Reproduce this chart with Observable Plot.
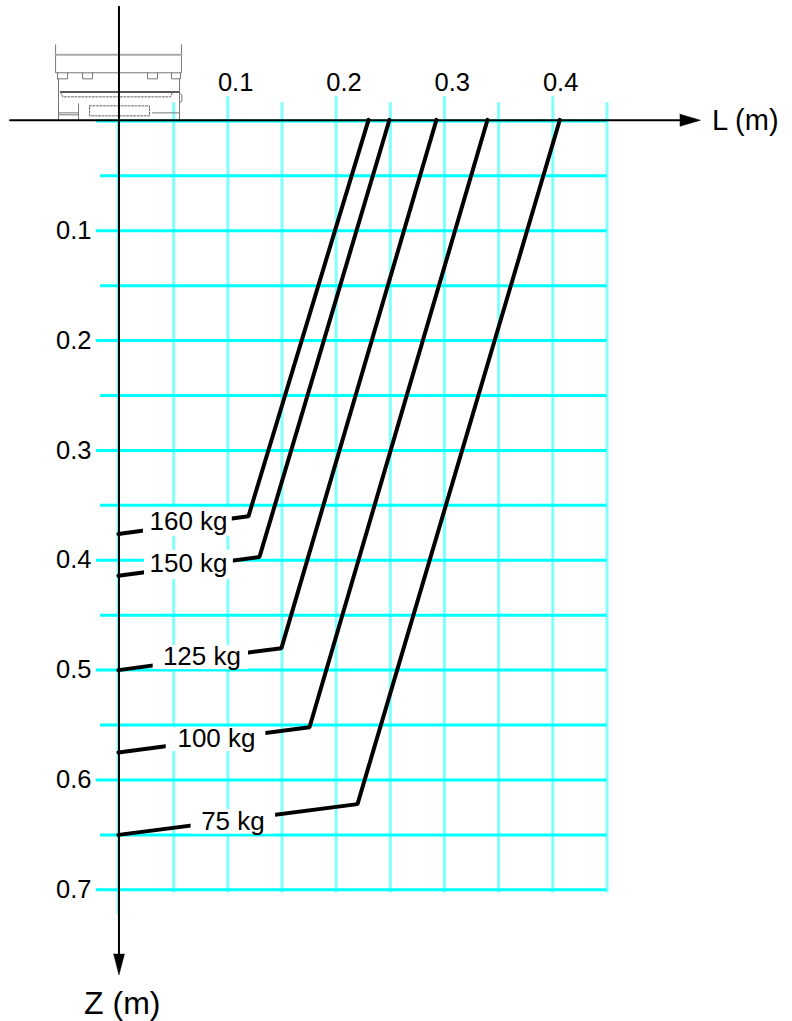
<!DOCTYPE html>
<html><head><meta charset="utf-8">
<script src="https://cdn.jsdelivr.net/npm/d3@7"></script>
<script src="https://cdn.jsdelivr.net/npm/@observablehq/plot@0.6"></script>
<style>html,body{margin:0;padding:0;background:#fff}svg{display:block}</style>
</head><body><div id="chart"></div>
<script>
const gridL = [0.05,0.1,0.15,0.2,0.25,0.3,0.35,0.4,0.45];
const gridZ = [0,0.05,0.1,0.15,0.2,0.25,0.3,0.35,0.4,0.45,0.5,0.55,0.6,0.65,0.7];
const tickL = [0.1,0.2,0.3,0.4];
const tickZ = [0.1,0.2,0.3,0.4,0.5,0.6,0.7];
const loads = ["160 kg","150 kg","125 kg","100 kg","75 kg"];
const topL  = [0.2299,0.2492,0.2926,0.3397,0.4065];
const kneeL = [0.119,0.1292,0.1495,0.1754,0.2197];
const kneeZ = [0.36,0.397,0.48,0.552,0.622];
const endZ  = [0.376,0.414,0.5,0.575,0.65];
const labelL = [0.0637,0.0637,0.0761,0.0895,0.1047];
const labelZ = [0.3646,0.403,0.4877,0.5625,0.6376];
const boxL1 = [0.0221,0.0231,0.0311,0.0431,0.0661];
const boxL2 = [0.1041,0.1051,0.1191,0.1351,0.1441];
const boxZ1 = [0.3525,0.391,0.4777,0.5525,0.627];
const boxZ2 = [0.378,0.4175,0.4995,0.574,0.649];

const lines = loads.flatMap((k,i)=>[
  {k,L:topL[i],Z:-0.001},{k,L:kneeL[i],Z:kneeZ[i]},{k,L:-0.001,Z:endZ[i]}]);
const labels = loads.map((k,i)=>({k,L:labelL[i],Z:labelZ[i]}));
const boxes = loads.map((k,i)=>({x1:boxL1[i],x2:boxL2[i],y1:boxZ1[i],y2:boxZ2[i]}));

// axes, arrowheads and the sketched device, in metres
const axisL = [[-0.101,-0.0006],[0.5294,-0.0006]];
const axisZ = [[-0.0005,-0.104],[-0.0005,0.77]];
const headL = [[0.5174,-0.0061],[0.5363,-0.0006],[0.5174,0.0049],[0.5174,-0.0061]];
const headZ = [[-0.0054,0.7585],[-0.0005,0.7775],[0.0046,0.7585],[-0.0054,0.7585]];
const device = [
 [[-0.059,-0.0693],[-0.059,-0.0438],[0.0572,-0.0438],[0.0572,-0.0693]],
 [[-0.0572,-0.0383],[-0.0572,-0.0438]],
 [[-0.0572,-0.0383],[-0.0479,-0.0383],[-0.0479,-0.0438]],
 [[-0.0341,-0.0438],[-0.0341,-0.0383],[-0.0249,-0.0383],[-0.0249,-0.0438]],
 [[0.0259,-0.0438],[0.0259,-0.0383],[0.0351,-0.0383],[0.0351,-0.0438]],
 [[0.048,-0.0438],[0.048,-0.0383],[0.0563,-0.0383],[0.0563,-0.0438]],
 [[-0.0563,-0.0383],[-0.0563,-0.0264]],
 [[0.0554,-0.0383],[0.0554,-0.0264]],
 [[-0.0563,-0.0264],[-0.0563,-0.0012]],
 [[0.0554,-0.0264],[0.0554,-0.0012]],
 [[-0.0563,-0.0055],[-0.0378,-0.0055]],
 [[-0.0563,-0.0073],[-0.0378,-0.0073]],
 [[-0.0378,-0.0155],[-0.0378,-0.0012]],
 [[0.0305,-0.0073],[0.0554,-0.0073]],
 [[0.0554,-0.0255],[0.0576,-0.0235],[0.0576,-0.018],[0.0554,-0.0164]]
];
const deviceBand = [[-0.059,-0.0602],[0.0572,-0.0602]];
const deviceEdge = [[-0.0544,-0.0264],[0.0545,-0.0264]];
const deviceDashed = [
 [[-0.0544,-0.0264],[-0.0524,-0.0219],[0.0471,-0.0219],[0.0491,-0.0264]],
 [[-0.0277,-0.0137],[0.0277,-0.0137],[0.0277,-0.0046],[-0.0277,-0.0046],[-0.0277,-0.0137]]
];
const pt = {x:d=>d[0],y:d=>d[1]};

const font = "Liberation Sans, Arial, sans-serif";
const plot = Plot.plot({
  width:792,height:1021,margin:0,
  style:{fontFamily:font,background:"#fff"},
  x:{domain:[0,0.45],range:[119,606.5],axis:null},
  y:{domain:[0,0.7],range:[120.4,889.3],axis:null},
  marks:[
    Plot.ruleX(gridL,{x:d=>d,y1:d=>tickL.includes(d)?-0.022:-0.0165,y2:0.703,stroke:"#80ffff",strokeWidth:3}),
    Plot.ruleX([0],{x:-0.0017,y1:0,y2:0.723,stroke:"#80ffff",strokeWidth:2}),
    Plot.ruleY(gridZ,{y:d=>d,x1:d=>tickZ.includes(d)||d===0?-0.0214:-0.0175,x2:0.45,stroke:"#00ffff",strokeWidth:3}),
    Plot.rect(boxes,{x1:"x1",x2:"x2",y1:"y1",y2:"y2",fill:"#fff"}),
    ...device.map(p=>Plot.line(p,{...pt,stroke:"#777",strokeWidth:1})),
    Plot.line(deviceBand,{...pt,stroke:"#aaa",strokeWidth:2}),
    Plot.line(deviceEdge,{...pt,stroke:"#222",strokeWidth:1.5}),
    ...deviceDashed.map(p=>Plot.line(p,{...pt,stroke:"#666",strokeWidth:1,strokeDasharray:"2,1.5"})),
    Plot.line(axisL,{...pt,stroke:"#000",strokeWidth:2}),
    Plot.line(axisZ,{...pt,stroke:"#000",strokeWidth:2}),
    Plot.line(headL,{...pt,fill:"#000",stroke:"#000",strokeWidth:0.5}),
    Plot.line(headZ,{...pt,fill:"#000",stroke:"#000",strokeWidth:0.5}),
    Plot.line(lines,{x:"L",y:"Z",z:"k",stroke:"#000",strokeWidth:4,strokeLinejoin:"miter"}),
    Plot.rect(boxes,{x1:"x1",x2:"x2",y1:"y1",y2:"y2",fill:"#fff"}),
    Plot.text(labels,{x:"L",y:"Z",text:"k",fontSize:26,fill:"#000"}),
    Plot.text(tickL,{x:d=>d+0.0072,y:-0.035,text:d=>d.toFixed(1),fontSize:25.5,fill:"#000"}),
    Plot.text(tickZ,{x:-0.0259,y:d=>d,text:d=>d.toFixed(1),textAnchor:"end",fontSize:25.5,fill:"#000"}),
    Plot.text(["L (m)"],{x:0.5469,y:0,text:d=>d,textAnchor:"start",fontSize:29,fill:"#000"}),
    Plot.text(["Z (m)"],{x:0.0026,y:0.804,text:d=>d,fontSize:32,fill:"#000"})
  ]
});
document.getElementById("chart").append(plot);
</script></body></html>
